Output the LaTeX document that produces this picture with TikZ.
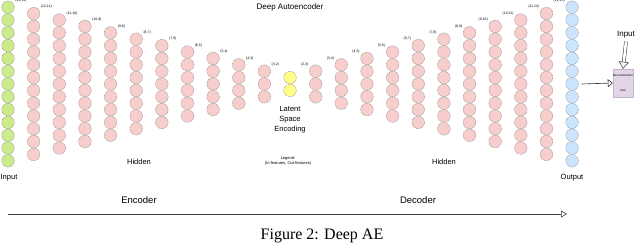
\documentclass[tikz,border=0pt]{standalone}
\usepackage{fontspec}
\setmainfont{Liberation Sans}
\newfontfamily\capfont{Liberation Serif}
\usetikzlibrary{arrows.meta}
\definecolor{pinkfill}{HTML}{F8CECC}
\definecolor{greenfill}{HTML}{CDEB8B}
\definecolor{bluefill}{HTML}{CCE5FF}
\definecolor{yellowfill}{HTML}{FFFF88}
\definecolor{lossfill}{HTML}{E1D5E7}
\definecolor{lossdraw}{HTML}{C3B3CC}
\definecolor{rimgray}{HTML}{8C8C8C}
\tikzset{
  neuron/.style={circle, draw=rimgray, dash pattern=on 1pt off 0.8pt, line width=0.45pt, minimum size=12.6pt, inner sep=0pt},
  lyrlbl/.style={font=\fontsize{3.5}{4}\selectfont, inner sep=0.6pt},
  plain/.style={font=\fontsize{7.5}{10}\selectfont, inner sep=0pt},
  big/.style={font=\fontsize{9.5}{11}\selectfont, inner sep=0pt},
}
\begin{document}
\begin{tikzpicture}[x=1pt,y=-1pt]
\useasboundingbox (0,0) rectangle (640,249);
% neuron columns
\foreach \k in {0,...,22}{
  \pgfmathtruncatemacro{\n}{2+abs(\k-11)}
  \def\col{pinkfill}
  \ifnum\k=0 \def\col{greenfill}\fi
  \ifnum\k=11 \def\col{yellowfill}\fi
  \ifnum\k=22 \def\col{bluefill}\fi
  \foreach \i in {1,...,\n}{
    \node[neuron, fill=\col] (c-\k-\i) at ({8+\k*25.64},{84+(\i-(\n+1)/2)*12.8}) {};
  }
  \ifnum\k<11
    \pgfmathtruncatemacro{\m}{ifthenelse(\k==0,13,\n-1)}
    \node[lyrlbl, anchor=west] (l-\k) at (c-\k-1.east |- c-\k-1.north) {(\n,\m)};
  \fi
  \ifnum\k>11
    \pgfmathtruncatemacro{\m}{\n-1}
    \node[lyrlbl, anchor=east] (l-\k) at (c-\k-1.west |- c-\k-1.north) {(\m,\n)};
  \fi
}
\node[font=\fontsize{8}{10}\selectfont] (ttl) at (290,7) {Deep Autoencoder};
\node[plain, align=center] (lat) at (290,119.5) {Latent\\Space\\Encoding};
\node[font=\fontsize{4}{5}\selectfont, align=center, inner sep=0pt] (leg) at (288,160.5) {Legend:\\(In-features, Out-features)};
\node[plain] (hidl) at (139,162) {Hidden};
\node[plain] (hidr) at (444,162) {Hidden};
\node[plain] (inl) at (9,178) {Input};
\node[plain] (outl) at (572,178) {Output};
\node[big] (enc) at (139,200) {Encoder};
\node[big] (dec) at (418,200) {Decoder};
\coordinate (as) at (8,214);
\coordinate (ae) at (567,214);
\draw[-{Triangle[open, length=6pt, width=7pt]}, black!75, line width=0.6pt] (as) -- (ae);
% loss
\node[font=\fontsize{8}{10}\selectfont, inner sep=0pt] (inp) at (626,35) {Input};
\node[draw=lossdraw, fill=lossfill, minimum width=20pt, minimum height=28pt, inner sep=0pt, align=center, font=\fontsize{3}{15}\selectfont] (loss) at (623,83) {Reconstruction\\loss};
\draw[double=white, double distance=2.6pt, line width=0.5pt, black!80, -{Triangle[open, length=7pt, width=10pt]}] ([yshift=-3pt]inp.south) -- (loss.north);
\draw[black!80, line width=0.6pt, -{Triangle[open, length=5pt, width=8pt]}] ([xshift=3pt]c-22-7.east) -- (loss.west);
\node[font=\capfont\fontsize{16}{19}\selectfont, inner sep=0pt] (cap) at (322,236) {Figure 2: Deep AE};
\end{tikzpicture}
\end{document}
